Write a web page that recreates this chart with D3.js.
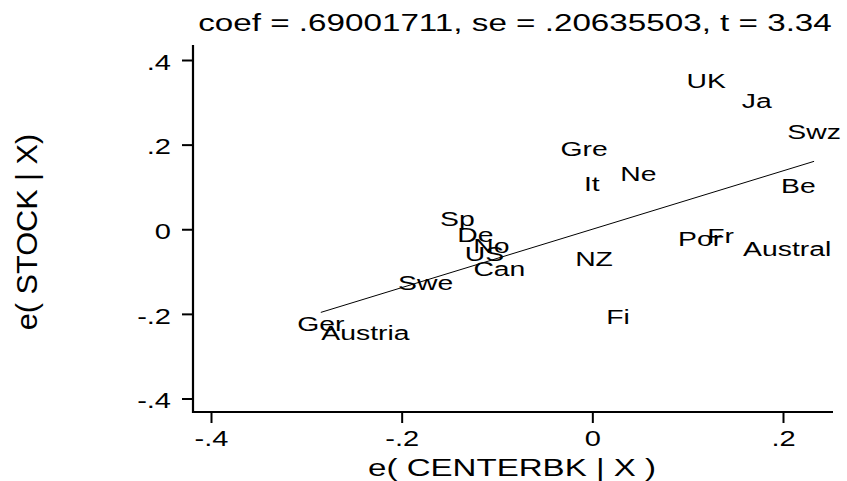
<!DOCTYPE html>
<html>
<head>
<meta charset="utf-8">
<script src="https://cdn.jsdelivr.net/npm/d3@7"></script>
<style>
  html, body { margin: 0; padding: 0; background: #fff; }
  text { font-family: "Liberation Sans", Arial, Helvetica, sans-serif; fill: #000; }
</style>
</head>
<body>
<svg id="chart" width="847" height="481"></svg>
<script>
// ---- data ----
const countries = ["UK","Ja","Swz","Gre","Ne","It","Be","Sp","De","No","US","Can","Swe","Ger","Austria","NZ","Por","Fr","Austral","Fi"];
const xValues = [0.1194, 0.1725, 0.2326, -0.0087, 0.0483, -0.0006, 0.2161, -0.1415, -0.1226, -0.1059, -0.1132, -0.0975, -0.1749, -0.2848, -0.2380, 0.0018, 0.1131, 0.1346, 0.2044, 0.0269];
const yValues = [0.3527, 0.3046, 0.2308, 0.1917, 0.1314, 0.1089, 0.1030, 0.0249, -0.0130, -0.0390, -0.0580, -0.0935, -0.1254, -0.2237, -0.2438, -0.0691, -0.0230, -0.0154, -0.0450, -0.2064];
const coef = 0.69001711;
const titleText = "coef = .69001711, se = .20635503, t = 3.34";
const xTicks = [-0.4, -0.2, 0, 0.2];
const yTicks = [-0.4, -0.2, 0, 0.2, 0.4];
const xTitle = "e( CENTERBK | X )";
const yTitle = "e( STOCK | X)";

// ---- layout ----
const svg = d3.select("#chart");
const pLeft = 193, pRight = 833, pTop = 45, pBottom = 412;
const x = d3.scaleLinear().domain([-0.4, 0.2]).range([211, 783]);
const y = d3.scaleLinear().domain([-0.4, 0.4]).range([398.5, 60]);
const sx = 1.35; // horizontal glyph stretch of the reference font

const locale = d3.formatLocale({ decimal: ".", thousands: ",", grouping: [3], currency: ["", ""], minus: "-" });
const f1 = locale.format(".1f");
function fmt(v) {
  if (Math.abs(v) < 1e-9) return "0";
  return f1(v).replace("0.", ".");
}

// title
svg.append("text")
  .attr("transform", `translate(${(pLeft + pRight) / 2 + 2},31) scale(${sx},1)`)
  .attr("text-anchor", "middle")
  .attr("font-size", 24.6)
  .text(titleText);

// axes
const xAxis = d3.axisBottom(x).tickValues(xTicks).tickSize(11).tickFormat(fmt);
const yAxis = d3.axisLeft(y).tickValues(yTicks).tickSize(11).tickFormat(fmt);

const gx = svg.append("g").attr("transform", `translate(0,${pBottom})`).call(xAxis);
gx.select(".domain").remove();
gx.selectAll(".tick line").attr("stroke", "#000").attr("stroke-width", 2);
gx.selectAll(".tick text")
  .attr("y", null).attr("dy", null)
  .attr("transform", `translate(0,34) scale(${sx},1)`)
  .attr("font-size", 21.5)
  .attr("font-family", "Liberation Sans, Arial, sans-serif")
  .attr("fill", "#000");

const gy = svg.append("g").attr("transform", `translate(${pLeft},0)`).call(yAxis);
gy.select(".domain").remove();
gy.selectAll(".tick line").attr("stroke", "#000").attr("stroke-width", 2);
gy.selectAll(".tick text")
  .attr("x", null).attr("dy", null)
  .attr("transform", `translate(-22,9.2) scale(${sx},1)`)
  .attr("text-anchor", "end")
  .attr("font-size", 21.5)
  .attr("font-family", "Liberation Sans, Arial, sans-serif")
  .attr("fill", "#000");

// axis lines
svg.append("line").attr("x1", pLeft).attr("x2", pLeft).attr("y1", pTop).attr("y2", pBottom + 1)
  .attr("stroke", "#000").attr("stroke-width", 2.2);
svg.append("line").attr("x1", pLeft - 1).attr("x2", pRight).attr("y1", pBottom).attr("y2", pBottom)
  .attr("stroke", "#000").attr("stroke-width", 2.2);

// axis titles
svg.append("text")
  .attr("transform", `translate(${(pLeft + pRight) / 2 - 1},476) scale(${sx},1)`)
  .attr("text-anchor", "middle")
  .attr("font-size", 24.5)
  .text(xTitle);

svg.append("text")
  .attr("transform", `translate(37,232) rotate(-90) scale(1.04,1)`)
  .attr("text-anchor", "middle")
  .attr("font-size", 29.5)
  .text(yTitle);

// fitted line through the origin
const xmin = d3.min(xValues), xmax = d3.max(xValues);
svg.append("line")
  .attr("x1", x(xmin)).attr("y1", y(coef * xmin))
  .attr("x2", x(xmax)).attr("y2", y(coef * xmax))
  .attr("stroke", "#000").attr("stroke-width", 1);

// marker labels (centered on points)
const pts = countries.map((c, i) => ({ c, x: xValues[i], y: yValues[i] }));
svg.append("g").selectAll("text").data(pts).join("text")
  .attr("transform", d => `translate(${x(d.x)},${y(d.y) + 7.5}) scale(${sx},1)`)
  .attr("text-anchor", "middle")
  .attr("font-size", 21)
  .text(d => d.c);
</script>
</body>
</html>
